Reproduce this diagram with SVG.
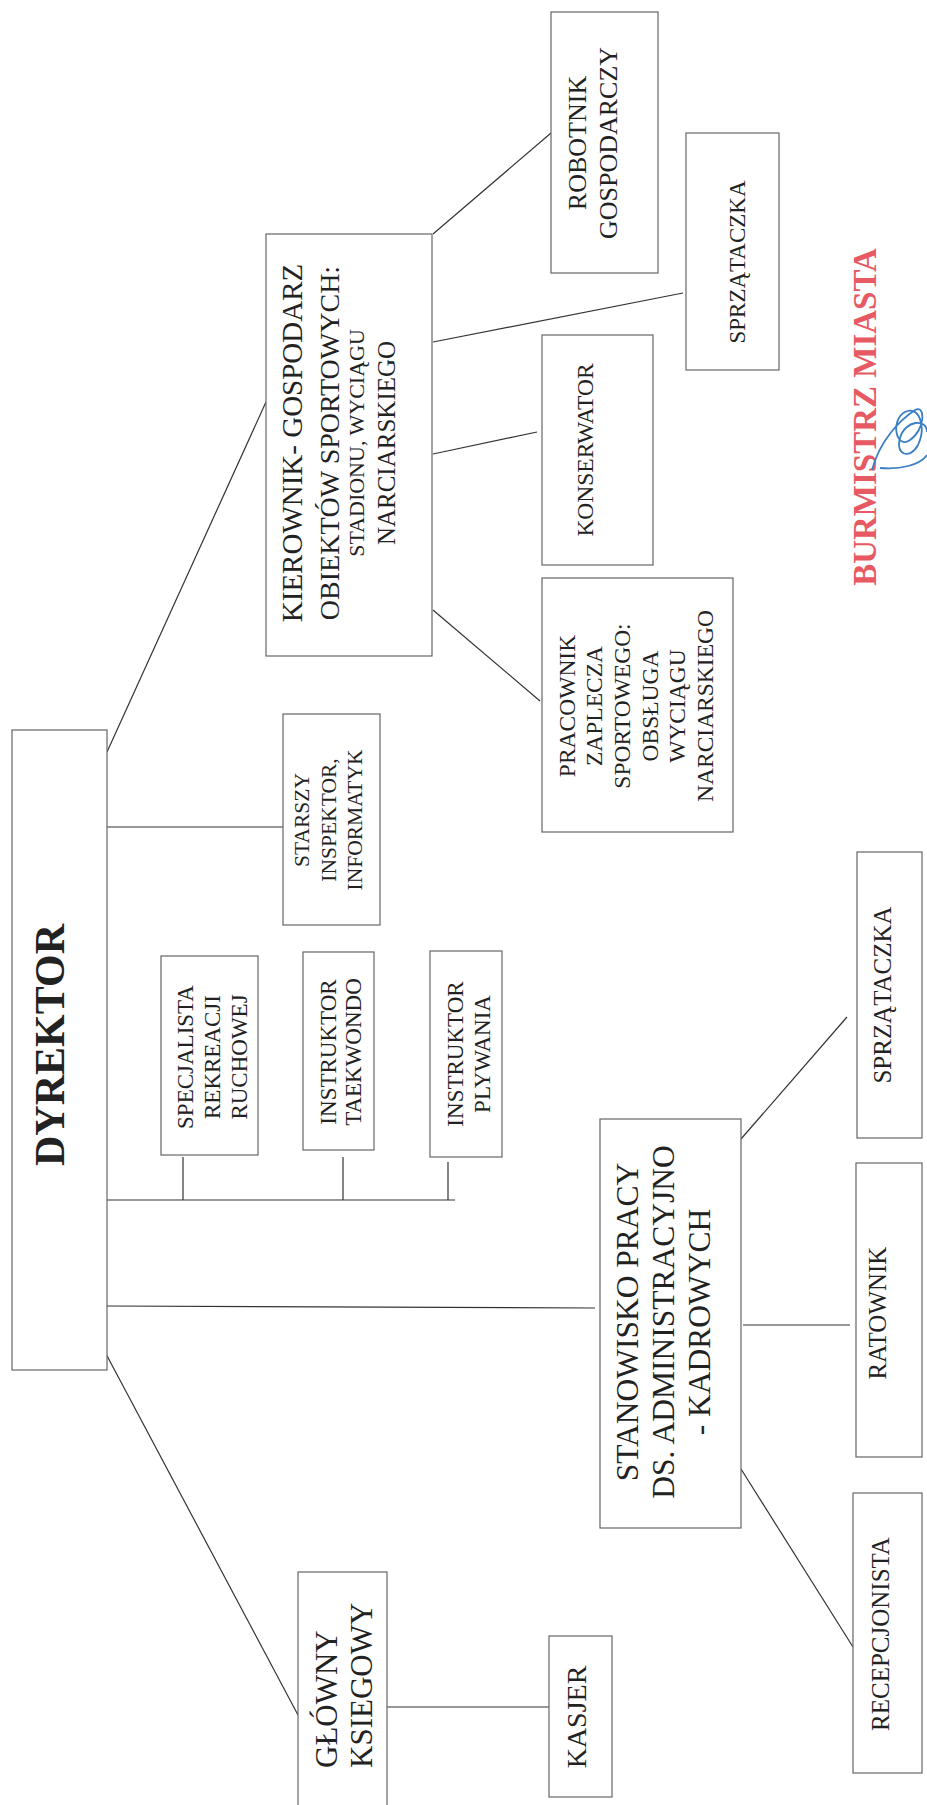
<svg xmlns="http://www.w3.org/2000/svg" width="927" height="1805" viewBox="0 0 927 1805">
<style>
.box{fill:#fff;stroke:#666;stroke-width:1.2}
.t{font-family:"Liberation Serif","Times New Roman",serif;fill:#222;text-anchor:middle}
.c line{stroke:#333;stroke-width:1.2}
.stamp{font-family:"Liberation Serif","Times New Roman",serif;font-weight:bold;fill:#e85a63;text-anchor:middle}
</style>
<rect width="927" height="1805" fill="#fff"/>
<g class="c" id="connectors">
<line x1="107" y1="752" x2="266" y2="402"/>
<line x1="107" y1="827" x2="283" y2="827"/>
<line x1="107" y1="1200" x2="455" y2="1200"/>
<line x1="183" y1="1157" x2="183" y2="1200"/>
<line x1="343" y1="1157" x2="343" y2="1200"/>
<line x1="448" y1="1162" x2="448" y2="1200"/>
<line x1="107" y1="1306" x2="595" y2="1308"/>
<line x1="105" y1="1352" x2="298" y2="1715"/>
<line x1="387" y1="1707" x2="549" y2="1707"/>
<line x1="433" y1="234" x2="551" y2="133"/>
<line x1="433" y1="342" x2="683" y2="293"/>
<line x1="433" y1="454" x2="537" y2="432"/>
<line x1="433" y1="610" x2="540" y2="701"/>
<line x1="741" y1="1139" x2="847" y2="1017"/>
<line x1="743" y1="1325" x2="850" y2="1325"/>
<line x1="741" y1="1469" x2="853" y2="1647"/>
</g>
<g id="dyrektor">
<rect class="box" x="12" y="730" width="95" height="640"/>
<text class="t" font-size="42" font-weight="bold" transform="translate(64,1045) rotate(-90)">DYREKTOR</text>
</g>
<g id="kierownik">
<rect class="box" x="266" y="234" width="166" height="422"/>
<text class="t" font-size="29" transform="translate(301.6,443) rotate(-90)">KIEROWNIK- GOSPODARZ</text>
<text class="t" font-size="28" transform="translate(339.3,443) rotate(-90)">OBIEKTÓW SPORTOWYCH:</text>
<text class="t" font-size="22" transform="translate(364.3,443) rotate(-90)">STADIONU, WYCIĄGU</text>
<text class="t" font-size="25" transform="translate(395.3,443) rotate(-90)">NARCIARSKIEGO</text>
</g>
<g id="robotnik">
<rect class="box" x="551" y="12" width="107" height="261"/>
<text class="t" font-size="26" transform="translate(585.6,143) rotate(-90)"><tspan x="0" y="0">ROBOTNIK</tspan><tspan x="0" y="31">GOSPODARCZY</tspan></text>
</g>
<g id="sprzataczka1">
<rect class="box" x="686" y="133" width="93" height="237"/>
<text class="t" font-size="23" transform="translate(744.6,262) rotate(-90)">SPRZĄTACZKA</text>
</g>
<g id="konserwator">
<rect class="box" x="542" y="335" width="111" height="230"/>
<text class="t" font-size="23.5" transform="translate(592.8,450) rotate(-90)">KONSERWATOR</text>
</g>
<g id="pracownik">
<rect class="box" x="542" y="578" width="191" height="254"/>
<text class="t" font-size="23.5" transform="translate(574.8,706) rotate(-90)"><tspan x="0" y="0">PRACOWNIK</tspan><tspan x="0" y="27.6">ZAPLECZA</tspan><tspan x="0" y="55.2">SPORTOWEGO:</tspan><tspan x="0" y="82.8">OBSŁUGA</tspan><tspan x="0" y="110.4">WYCIĄGU</tspan><tspan x="0" y="138">NARCIARSKIEGO</tspan></text>
</g>
<g id="starszy">
<rect class="box" x="283" y="714" width="97" height="211"/>
<text class="t" font-size="21.5" transform="translate(309.1,820) rotate(-90)"><tspan x="0" y="0">STARSZY</tspan><tspan x="0" y="26.5">INSPEKTOR,</tspan><tspan x="0" y="53">INFORMATYK</tspan></text>
</g>
<g id="specjalista">
<rect class="box" x="161" y="956" width="97" height="199"/>
<text class="t" font-size="23" transform="translate(192.6,1057) rotate(-90)"><tspan x="0" y="0">SPECJALISTA</tspan><tspan x="0" y="27">REKREACJI</tspan><tspan x="0" y="54">RUCHOWEJ</tspan></text>
</g>
<g id="taekwondo">
<rect class="box" x="303" y="952" width="71" height="198"/>
<text class="t" font-size="23" transform="translate(335.6,1052) rotate(-90)"><tspan x="0" y="0">INSTRUKTOR</tspan><tspan x="0" y="25">TAEKWONDO</tspan></text>
</g>
<g id="plywania">
<rect class="box" x="430" y="951" width="72" height="206"/>
<text class="t" font-size="23" transform="translate(462.6,1054) rotate(-90)"><tspan x="0" y="0">INSTRUKTOR</tspan><tspan x="0" y="27">PLYWANIA</tspan></text>
</g>
<g id="stanowisko">
<rect class="box" x="600" y="1119" width="141" height="409"/>
<text class="t" font-size="31.5" transform="translate(638.4,1322) rotate(-90)"><tspan x="0" y="0">STANOWISKO PRACY</tspan><tspan x="0" y="36">DS. ADMINISTRACYJNO</tspan><tspan x="0" y="72">- KADROWYCH</tspan></text>
</g>
<g id="sprzataczka2">
<rect class="box" x="857" y="852" width="65" height="286"/>
<text class="t" font-size="25" transform="translate(891,995) rotate(-90)">SPRZĄTACZKA</text>
</g>
<g id="ratownik">
<rect class="box" x="856" y="1163" width="66" height="294"/>
<text class="t" font-size="25" transform="translate(886.3,1313) rotate(-90)">RATOWNIK</text>
</g>
<g id="recepcjonista">
<rect class="box" x="853" y="1493" width="69" height="280"/>
<text class="t" font-size="25" transform="translate(889.3,1634) rotate(-90)">RECEPCJONISTA</text>
</g>
<g id="kasjer">
<rect class="box" x="549" y="1636" width="63" height="161"/>
<text class="t" font-size="28" transform="translate(586.3,1717) rotate(-90)">KASJER</text>
</g>
<g id="glowny">
<rect class="box" x="298" y="1572" width="89" height="245"/>
<text class="t" font-size="31" style="text-anchor:start" transform="translate(337.3,1768) rotate(-90)"><tspan x="0" y="0">GŁÓWNY</tspan><tspan x="0" y="35">KSIEGOWY</tspan></text>
</g>
<g id="stamp">
<text class="stamp" font-size="33" transform="translate(876,417) rotate(-90)">BURMISTRZ MIASTA</text>
<path d="M872 470 C 880 440, 900 420, 915 410 C 926 404, 925 430, 910 440 C 896 450, 890 420, 905 412 C 918 405, 927 425, 918 445 C 910 460, 895 455, 900 438 C 905 420, 927 418, 927 432 M 880 468 C 900 470, 920 465, 927 455" fill="none" stroke="#3a7fc4" stroke-width="1.8"/>
</g>
</svg>
